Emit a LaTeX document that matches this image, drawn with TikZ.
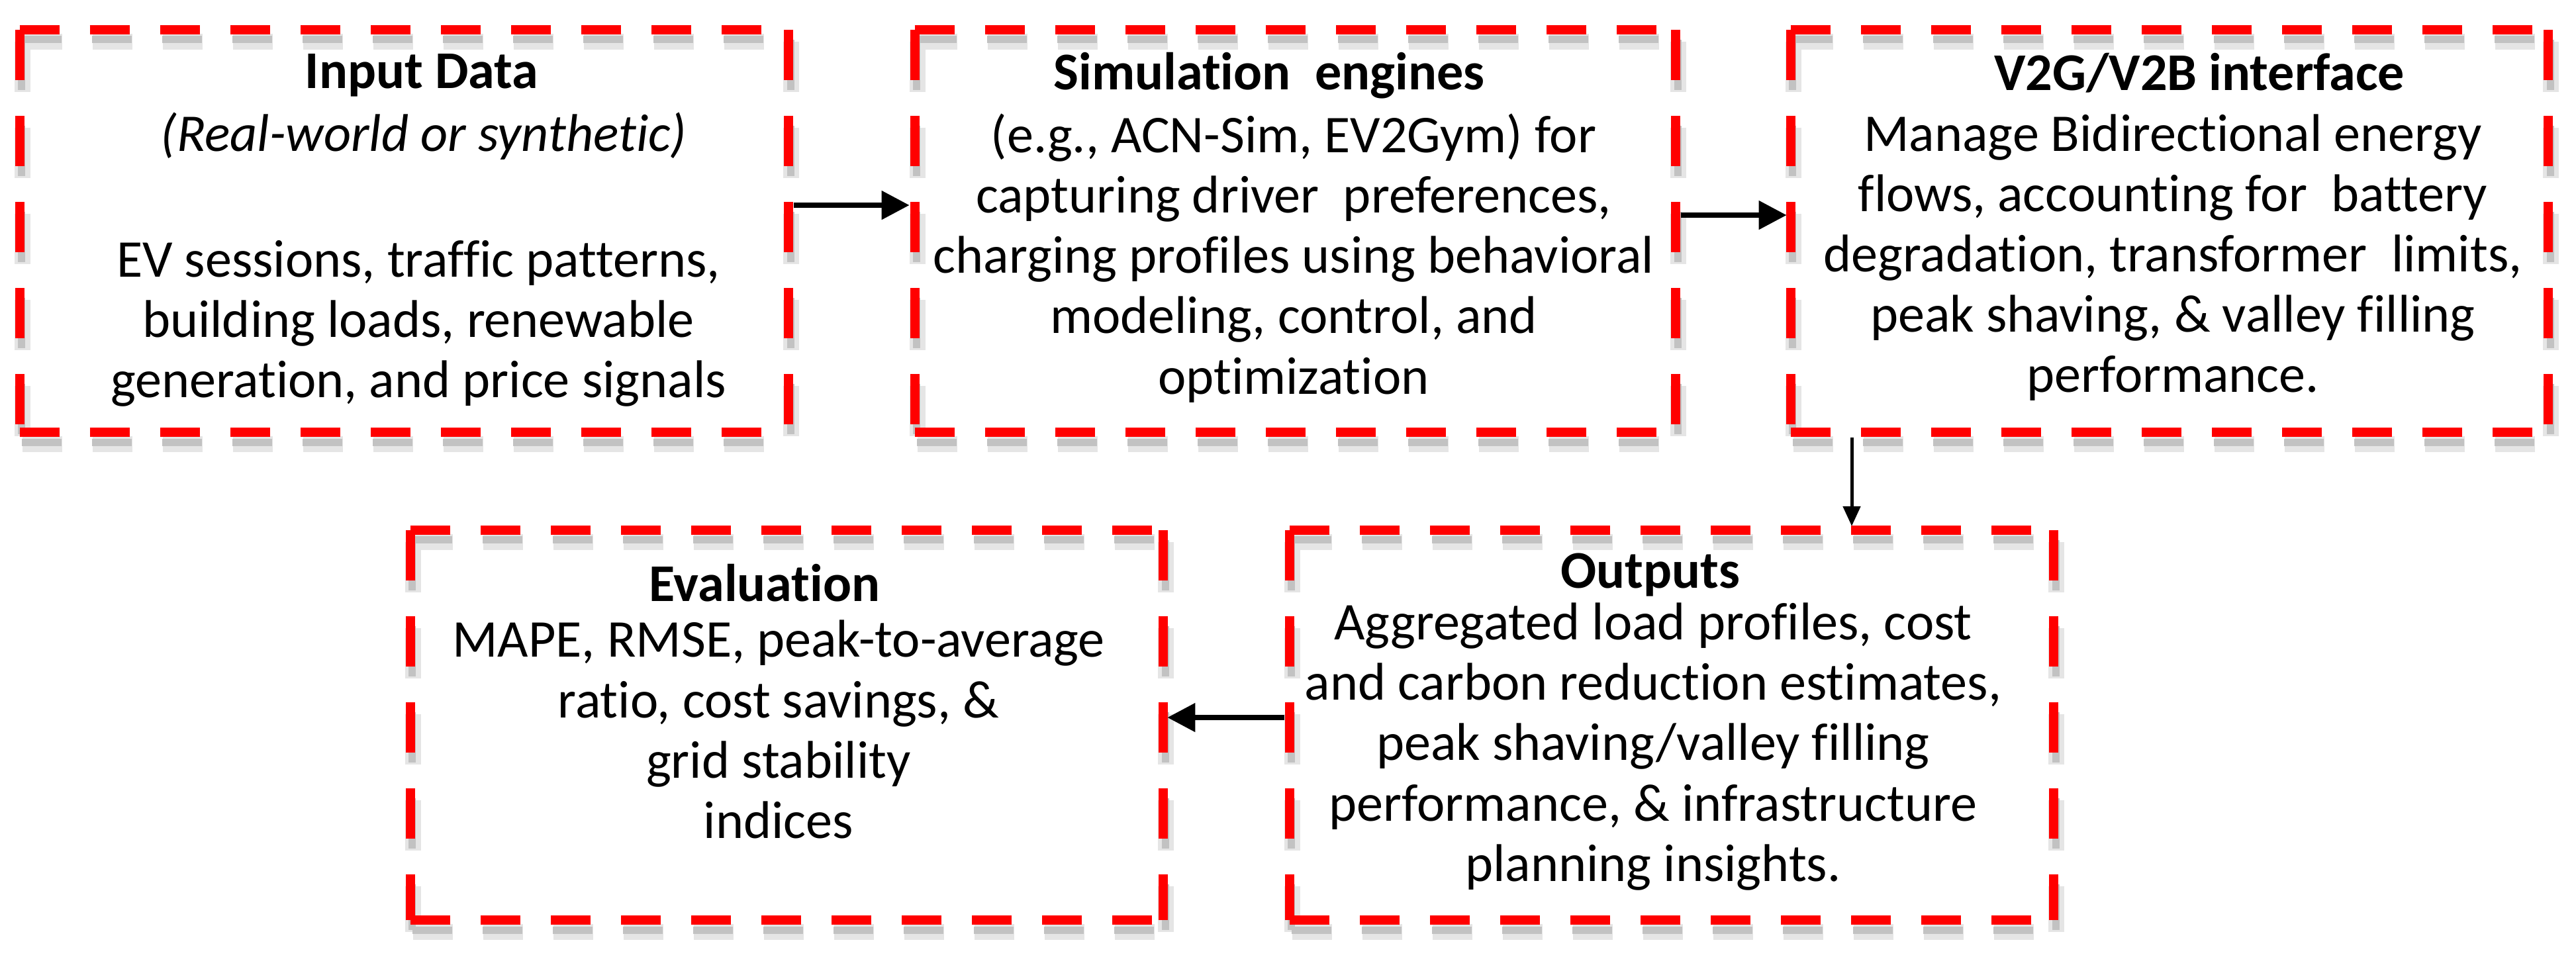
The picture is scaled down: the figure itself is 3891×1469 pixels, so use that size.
\documentclass[tikz,border=0pt]{standalone}
\usepackage{fontspec}
\setmainfont{Carlito}[Ligatures=NoCommon]
\usetikzlibrary{arrows.meta,calc}
\tikzset{
  boxn/.style={inner sep=0pt, outer sep=0pt, draw=none},
  redh/.style={draw=red, line width=0.14cm, dash pattern=on 0.6cm off 0.46cm},
  redv/.style={draw=red, line width=0.14cm, dash pattern=on 0.76cm off 0.54cm},
  shh/.style={draw=black!10, line width=0.24cm, dash pattern=on 0.6cm off 0.46cm},
  shv/.style={draw=black!10, line width=0.24cm, dash pattern=on 0.76cm off 0.54cm},
  shhc/.style={draw=black!24, line width=0.11cm, dash pattern=on 0.6cm off 0.46cm},
  shvc/.style={draw=black!24, line width=0.11cm, dash pattern=on 0.76cm off 0.54cm},
  ttl/.style={font=\fontsize{22.8pt}{25.9pt}\selectfont\bfseries, inner sep=0pt, align=center},
  txt/.style={font=\fontsize{22.8pt}{25.9pt}\selectfont, inner sep=0pt, align=center},
  arr/.style={-{Triangle[length=0.42cm,width=0.42cm]}, line width=0.08cm, black},
  arrs/.style={-{Triangle[length=0.3cm,width=0.26cm]}, line width=0.05cm, black},
}
\newcommand\dframe[1]{%
  \draw[shh] ($(#1.north west)+(4,18)$) -- ($(#1.north east)+(4,18)$);
  \draw[shh] ($(#1.south west)+(4,18)$) -- ($(#1.south east)+(4,18)$);
  \draw[shv] ($(#1.north west)+(4,18)$) -- ($(#1.south west)+(4,18)$);
  \draw[shv] ($(#1.north east)+(4,18)$) -- ($(#1.south east)+(4,18)$);
  \draw[shhc] ($(#1.north west)+(3,15)$) -- ($(#1.north east)+(3,15)$);
  \draw[shhc] ($(#1.south west)+(3,15)$) -- ($(#1.south east)+(3,15)$);
  \draw[shvc] ($(#1.north west)+(3,15)$) -- ($(#1.south west)+(3,15)$);
  \draw[shvc] ($(#1.north east)+(3,15)$) -- ($(#1.south east)+(3,15)$);
  \draw[redh] (#1.north west) -- (#1.north east);
  \draw[redh] (#1.south west) -- (#1.south east);
  \draw[redv] (#1.north west) -- (#1.south west);
  \draw[redv] (#1.north east) -- (#1.south east);
}
\begin{document}
\begin{tikzpicture}[x=0.01cm, y=-0.01cm]
\useasboundingbox[fill=white] (0,0) rectangle (3891,1469);

% boxes
\node[boxn, minimum width=11.61cm, minimum height=6.08cm] (b1) at (610.5,349) {};
\node[boxn, minimum width=11.49cm, minimum height=6.08cm] (b2) at (1956.5,349) {};
\node[boxn, minimum width=11.44cm, minimum height=6.08cm] (b3) at (3277,349) {};
\node[boxn, minimum width=11.37cm, minimum height=5.89cm] (b4) at (1188.5,1095.5) {};
\node[boxn, minimum width=11.54cm, minimum height=5.89cm] (b5) at (2525,1095.5) {};

\dframe{b1}
\dframe{b2}
\dframe{b3}
\dframe{b4}
\dframe{b5}

% texts
\node[ttl] (t1) at (637,114) {Input Data};
\node[txt] (s1) at (640,206) {\itshape (Real-world or synthetic)};
\node[txt] (d1) at (632,489) {EV sessions, traffic patterns,\\building loads, renewable\\generation, and price signals};

\node[ttl] (t2) at (1917,114) {Simulation\ \ engines};
\node[txt] (d2) at (1954,390) {(e.g., ACN-Sim, EV2Gym) for\\capturing driver\ \ preferences,\\charging profiles using behavioral\\modeling, control, and\\optimization};

\node[ttl] (t3) at (3322,110) {V2G/V2B interface};
\node[txt] (d3) at (3282,389) {Manage Bidirectional energy\\flows, accounting for\ \ battery\\degradation, transformer\ \ limits,\\peak shaving, \& valley filling\\performance.};

\node[ttl] (t4) at (1155,881) {Evaluation};
\node[txt] (d4) at (1176,1102) {MAPE, RMSE, peak-to-average\\ratio, cost savings, \&\\grid stability\\indices};

\node[ttl] (t5) at (2493,868) {Outputs};
\node[txt] (d5) at (2497,1128) {Aggregated load profiles, cost\\and carbon reduction estimates,\\peak shaving/valley filling\\performance, \& infrastructure\\planning insights.};

% connectors
\draw[arr] ($(b1.east)+(8,-39)$) -- ($(b2.west)+(-8,-39)$);
\draw[arr] ($(b2.east)+(8,-24)$) -- ($(b3.west)+(-6,-24)$);
\draw[arrs] ($(b3.south)+(-480,8)$) -- ($(b5.north)+(272,-6)$);
\draw[arr] ($(b5.west)+(-8,-11.5)$) -- ($(b4.east)+(6,-11.5)$);
\end{tikzpicture}
\end{document}
